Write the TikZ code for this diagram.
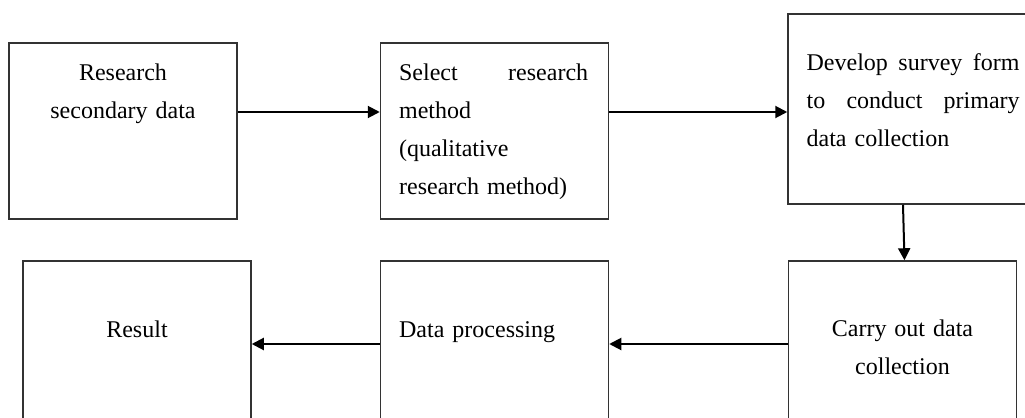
\documentclass[tikz,border=0pt]{standalone}
\usepackage{fontspec}
\setmainfont{Liberation Serif}
\usepackage{tikz}
\usetikzlibrary{arrows.meta}
\usetikzlibrary{calc}

\tikzset{
    stepbox/.style={draw=black!80, line width=0.75pt, inner sep=0pt,
        minimum width=114pt, minimum height=88pt},
    steptext/.style={inner sep=0pt, font=\fontsize{12}{19}\selectfont},
    flow/.style={line width=1pt, -{Triangle[length=6pt,width=6pt]}}
}

\begin{document}
\begin{tikzpicture}[x=0.5pt,y=-0.5pt]
        \path[use as bounding box, clip] (0,0) rectangle (1025,418);
        \node[stepbox] (secondary) at (123,131) {}; \node[stepbox] (method)
        at (494.5,131) {}; \node[stepbox, minimum width=125pt,
        minimum height=95pt] (survey) at (913,109) {}; \node[stepbox]
        (collect) at (902.5,349) {}; \node[stepbox] (processing) at
        (494.5,349) {}; \node[stepbox] (result) at (137,349) {};

        \node[steptext, anchor=base, text width=100pt, align=center]
        (secondarytext) at ([yshift=-19pt]secondary.north)
        {Research\\secondary data};
        \node[steptext, anchor=base west, text width=94.5pt, align=left]
        (methodtext) at ([xshift=9.5pt,yshift=-19pt]method.north west)
        {Select\hfill research\\method\\(qualitative\\research method)};
        \node[steptext, anchor=base west, text width=106.5pt, align=left]
        (surveytext) at ([xshift=9.5pt,yshift=-28.5pt]survey.north west)
        {Develop\hfill survey\hfill form\\to\hfill conduct\hfill primary\\data collection};
        \node[steptext, anchor=base, text width=100pt, align=center]
        (collecttext) at ([yshift=-38pt]collect.north)
        {Carry out data\\collection};
        \node[steptext, anchor=base west, text width=100pt, align=left]
        (processingtext) at ([xshift=9.5pt,yshift=-38.5pt]processing.north west)
        {Data processing};
        \node[steptext, anchor=base, text width=100pt, align=center]
        (resulttext) at ([yshift=-38.5pt]result.north) {Result};

        \draw[flow] ([yshift=9.5pt]secondary.east) -- ([yshift=9.5pt]method.west);
        \draw[flow] ([yshift=9.5pt]method.east) -- ([yshift=9.5pt]method.east -| survey.west);
        \draw[flow] ([xshift=-5pt]survey.south) -- ([xshift=1pt]collect.north);
        \draw[flow] ([yshift=2.5pt]collect.west) -- ([yshift=2.5pt]processing.east);
        \draw[flow] ([yshift=2.5pt]processing.west) -- ([yshift=2.5pt]result.east);
    \end{tikzpicture}
\end{document}
